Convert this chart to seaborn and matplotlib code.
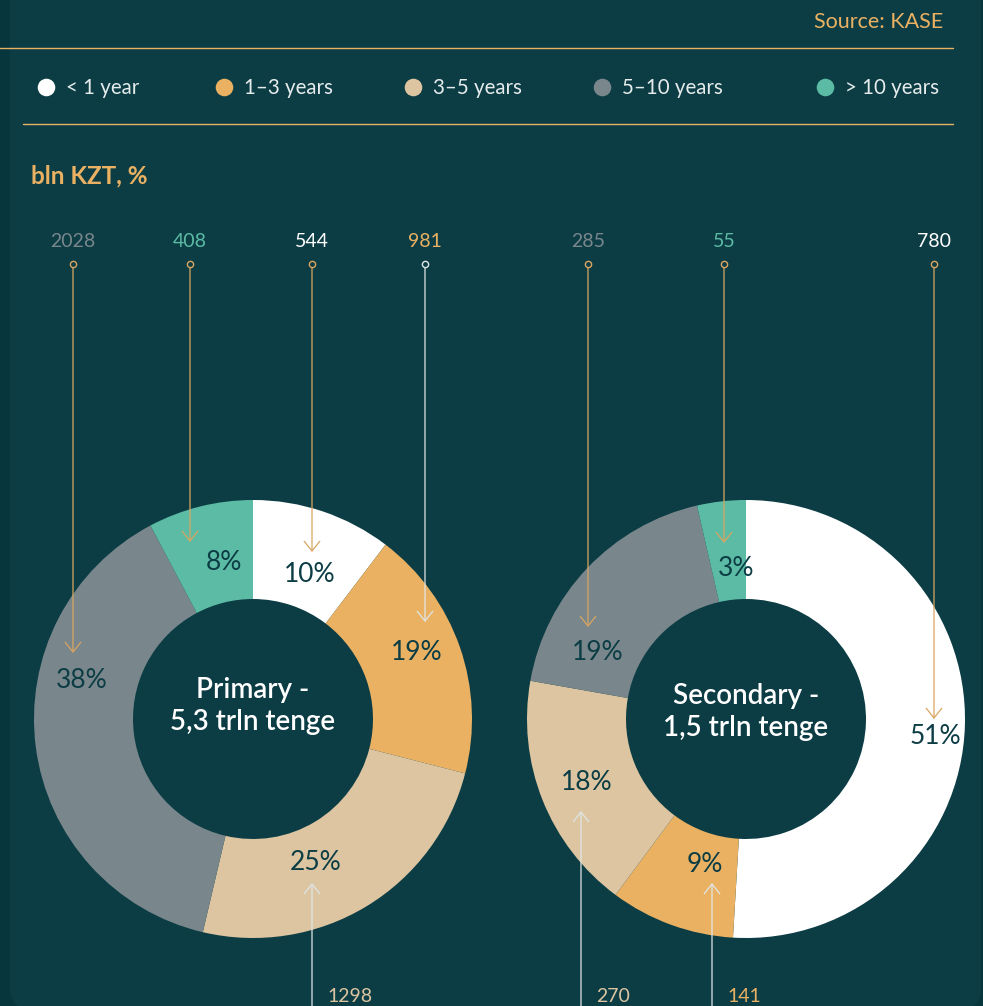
import seaborn as sns
import matplotlib.pyplot as plt
from matplotlib.patches import FancyBboxPatch

# Data (bln KZT)
categories = ['< 1 year', '1–3 years', '3–5 years', '5–10 years', '> 10 years']
primary_bln = [544, 981, 1298, 2028, 408]
secondary_bln = [780, 141, 270, 285, 55]
primary_pct = ['10%', '19%', '25%', '38%', '8%']
secondary_pct = ['51%', '9%', '18%', '19%', '3%']
primary_title = 'Primary -\n5,3 trln tenge'
secondary_title = 'Secondary -\n1,5 trln tenge'

# Styling
sns.set_theme(style='white')
plt.rcParams['font.family'] = ['Lato', 'DejaVu Sans']
palette = sns.color_palette(['#ffffff', '#eab162', '#dcc5a0', '#79878c', '#5cbba4'])
bg = '#0c3d45'
edge_bg = '#07363d'
orange = '#eab162'
line_orange = '#d9a560'
line_white = '#dfe6e6'
dark_text = '#0c3d45'
arrow_colors = [line_orange, line_white, line_white, line_orange, line_orange]

W, H = 983, 1006
fig = plt.figure(figsize=(W / 100, H / 100), dpi=100, facecolor=edge_bg)
ax = fig.add_axes([0, 0, 1, 1])
ax.patch.set_visible(False)

# card background with rounded corner
ax.add_patch(FancyBboxPatch((10, -40), 971, H + 44, boxstyle='round,pad=0,rounding_size=22',
                            facecolor=bg, edgecolor='none', zorder=0))

# Header
ax.text(943, 22, 'Source: KASE', ha='right', va='center', color=orange, fontsize=15.5)
ax.plot([0, 953], [48, 48], color=orange, lw=1)
ax.plot([23, 953], [124, 124], color=orange, lw=1)

legend_x = [46, 224, 413, 602, 825]
for i, cat in enumerate(categories):
    ax.scatter(legend_x[i], 87, s=160, color=palette[i], zorder=3, linewidths=0)
    ax.text(legend_x[i] + 20, 88, cat, ha='left', va='center', color='#e6ecec', fontsize=14.8)

ax.text(31, 176, 'bln KZT, %', ha='left', va='center', color=orange,
        fontsize=17.5, fontweight='bold')


def donut(values, pcts, title, cx, cy, title_y, label_xy, arrow_x, arrow_tip, from_top):
    # y axis is flipped (pixel coords), so this runs clockwise from 12 o'clock
    ax.pie(values, colors=palette, radius=219, center=(cx, cy),
           startangle=-90, counterclock=True,
           wedgeprops=dict(width=99, linewidth=0))
    ax.text(cx, title_y, title, ha='center', va='center', color='white',
            fontsize=20, fontweight='semibold', linespacing=1.25)
    for i, v in enumerate(values):
        lx, ly = label_xy[i]
        ax.text(lx, ly, pcts[i], ha='center', va='center', color=dark_text, fontsize=19)
        x = arrow_x[i]
        c = arrow_colors[i]
        if from_top[i]:
            start = 264
            ax.text(x, 241, f'{v}', ha='center', va='center', color=palette[i], fontsize=14)
            ax.plot(x, start, marker='o', ms=4.5, mfc=bg, mec=c, mew=1, zorder=4)
        else:
            start = H + 5
            ax.text(x + 15, 996, f'{v}', ha='left', va='center', color=palette[i], fontsize=14)
        ax.annotate('', xy=(x, arrow_tip[i]), xytext=(x, start),
                    arrowprops=dict(arrowstyle='->,head_length=0.5,head_width=0.4',
                                    color=c, lw=0.9, shrinkA=2, shrinkB=0,
                                    mutation_scale=14), zorder=3)


donut(primary_bln, primary_pct, primary_title, 253, 719, 706,
      label_xy=[(310, 575), (417, 652), (316, 863), (82, 681), (224, 563)],
      arrow_x=[312, 425, 312, 73, 190],
      arrow_tip=[552, 622, 883, 653, 542],
      from_top=[True, True, False, True, True])

donut(secondary_bln, secondary_pct, secondary_title, 746, 719, 712,
      label_xy=[(935, 736), (705, 865), (587, 783), (598, 652), (736, 569)],
      arrow_x=[934, 712, 581, 588, 724],
      arrow_tip=[719, 883, 811, 627, 543],
      from_top=[True, False, False, True, True])

ax.set_xlim(0, W)
ax.set_ylim(H, 0)
ax.set_axis_off()

fig.savefig('out.png', dpi=100, facecolor=fig.get_facecolor())
